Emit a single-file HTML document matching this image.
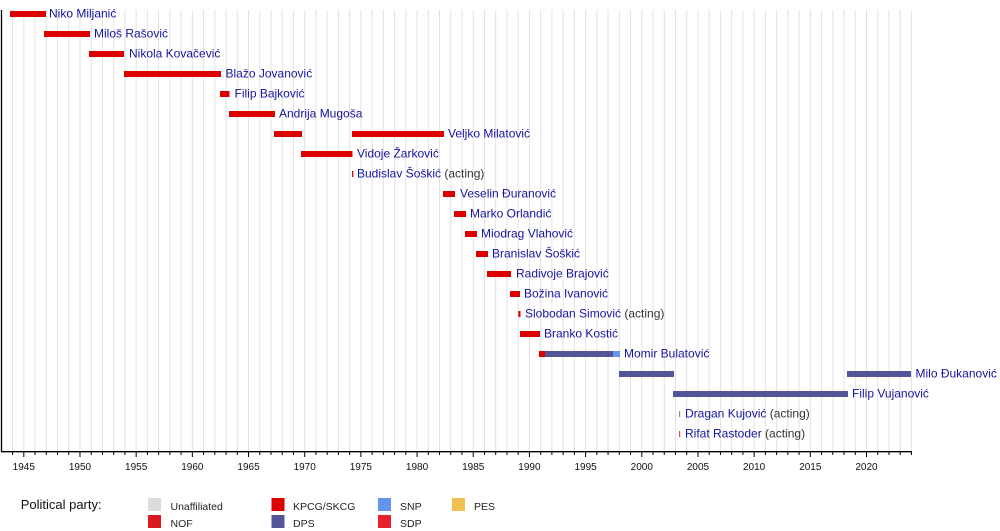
<!DOCTYPE html>
<html>
<head>
<meta charset="utf-8">
<style>
  html, body { margin:0; padding:0; background:#fff; }
  svg { display:block; }
  text { font-family: "Liberation Sans", "DejaVu Sans", sans-serif; }
  .nm { font-size:12px; fill:#1414a0; }
  .ac { fill:#333; }
  .ax { font-size:10px; fill:#111; text-anchor:middle; }
  .lg { font-size:10.5px; fill:#222; }
</style>
</head>
<body>
<svg width="1000" height="531" viewBox="0 0 1000 531" xmlns="http://www.w3.org/2000/svg">
  <rect x="0" y="0" width="1000" height="531" fill="#fff"/>
  <!-- gridlines every year -->
  <g stroke="#e2e2e2" stroke-width="1">
    <line x1="12.56" y1="10" x2="12.56" y2="451"/><line x1="23.8" y1="10" x2="23.8" y2="451"/><line x1="35.04" y1="10" x2="35.04" y2="451"/><line x1="46.27" y1="10" x2="46.27" y2="451"/><line x1="57.51" y1="10" x2="57.51" y2="451"/><line x1="68.74" y1="10" x2="68.74" y2="451"/><line x1="79.98" y1="10" x2="79.98" y2="451"/><line x1="91.22" y1="10" x2="91.22" y2="451"/><line x1="102.45" y1="10" x2="102.45" y2="451"/><line x1="113.69" y1="10" x2="113.69" y2="451"/><line x1="124.92" y1="10" x2="124.92" y2="451"/><line x1="136.16" y1="10" x2="136.16" y2="451"/><line x1="147.4" y1="10" x2="147.4" y2="451"/><line x1="158.63" y1="10" x2="158.63" y2="451"/><line x1="169.87" y1="10" x2="169.87" y2="451"/><line x1="181.1" y1="10" x2="181.1" y2="451"/><line x1="192.34" y1="10" x2="192.34" y2="451"/><line x1="203.58" y1="10" x2="203.58" y2="451"/><line x1="214.81" y1="10" x2="214.81" y2="451"/><line x1="226.05" y1="10" x2="226.05" y2="451"/><line x1="237.28" y1="10" x2="237.28" y2="451"/><line x1="248.52" y1="10" x2="248.52" y2="451"/><line x1="259.76" y1="10" x2="259.76" y2="451"/><line x1="270.99" y1="10" x2="270.99" y2="451"/><line x1="282.23" y1="10" x2="282.23" y2="451"/><line x1="293.46" y1="10" x2="293.46" y2="451"/><line x1="304.7" y1="10" x2="304.7" y2="451"/><line x1="315.94" y1="10" x2="315.94" y2="451"/><line x1="327.17" y1="10" x2="327.17" y2="451"/><line x1="338.41" y1="10" x2="338.41" y2="451"/><line x1="349.64" y1="10" x2="349.64" y2="451"/><line x1="360.88" y1="10" x2="360.88" y2="451"/><line x1="372.12" y1="10" x2="372.12" y2="451"/><line x1="383.35" y1="10" x2="383.35" y2="451"/><line x1="394.59" y1="10" x2="394.59" y2="451"/><line x1="405.82" y1="10" x2="405.82" y2="451"/><line x1="417.06" y1="10" x2="417.06" y2="451"/><line x1="428.3" y1="10" x2="428.3" y2="451"/><line x1="439.53" y1="10" x2="439.53" y2="451"/><line x1="450.77" y1="10" x2="450.77" y2="451"/><line x1="462" y1="10" x2="462" y2="451"/><line x1="473.24" y1="10" x2="473.24" y2="451"/><line x1="484.48" y1="10" x2="484.48" y2="451"/><line x1="495.71" y1="10" x2="495.71" y2="451"/><line x1="506.95" y1="10" x2="506.95" y2="451"/><line x1="518.18" y1="10" x2="518.18" y2="451"/><line x1="529.42" y1="10" x2="529.42" y2="451"/><line x1="540.66" y1="10" x2="540.66" y2="451"/><line x1="551.89" y1="10" x2="551.89" y2="451"/><line x1="563.13" y1="10" x2="563.13" y2="451"/><line x1="574.36" y1="10" x2="574.36" y2="451"/><line x1="585.6" y1="10" x2="585.6" y2="451"/><line x1="596.84" y1="10" x2="596.84" y2="451"/><line x1="608.07" y1="10" x2="608.07" y2="451"/><line x1="619.31" y1="10" x2="619.31" y2="451"/><line x1="630.54" y1="10" x2="630.54" y2="451"/><line x1="641.78" y1="10" x2="641.78" y2="451"/><line x1="653.02" y1="10" x2="653.02" y2="451"/><line x1="664.25" y1="10" x2="664.25" y2="451"/><line x1="675.49" y1="10" x2="675.49" y2="451"/><line x1="686.72" y1="10" x2="686.72" y2="451"/><line x1="697.96" y1="10" x2="697.96" y2="451"/><line x1="709.2" y1="10" x2="709.2" y2="451"/><line x1="720.43" y1="10" x2="720.43" y2="451"/><line x1="731.67" y1="10" x2="731.67" y2="451"/><line x1="742.9" y1="10" x2="742.9" y2="451"/><line x1="754.14" y1="10" x2="754.14" y2="451"/><line x1="765.38" y1="10" x2="765.38" y2="451"/><line x1="776.61" y1="10" x2="776.61" y2="451"/><line x1="787.85" y1="10" x2="787.85" y2="451"/><line x1="799.08" y1="10" x2="799.08" y2="451"/><line x1="810.32" y1="10" x2="810.32" y2="451"/><line x1="821.56" y1="10" x2="821.56" y2="451"/><line x1="832.79" y1="10" x2="832.79" y2="451"/><line x1="844.03" y1="10" x2="844.03" y2="451"/><line x1="855.26" y1="10" x2="855.26" y2="451"/><line x1="866.5" y1="10" x2="866.5" y2="451"/><line x1="877.74" y1="10" x2="877.74" y2="451"/><line x1="888.97" y1="10" x2="888.97" y2="451"/><line x1="900.21" y1="10" x2="900.21" y2="451"/><line x1="911.44" y1="10" x2="911.44" y2="451"/>
  </g>

  <!-- axes -->
  <line x1="1.5" y1="10" x2="1.5" y2="452" stroke="#000" stroke-width="1.3"/>
  <line x1="1" y1="451.7" x2="911.5" y2="451.7" stroke="#000" stroke-width="1.3"/>
  <g stroke="#000" stroke-width="1">
    <line x1="12.56" y1="451" x2="12.56" y2="455"/><line x1="23.8" y1="451" x2="23.8" y2="457"/><line x1="35.04" y1="451" x2="35.04" y2="455"/><line x1="46.27" y1="451" x2="46.27" y2="455"/><line x1="57.51" y1="451" x2="57.51" y2="455"/><line x1="68.74" y1="451" x2="68.74" y2="455"/><line x1="79.98" y1="451" x2="79.98" y2="457"/><line x1="91.22" y1="451" x2="91.22" y2="455"/><line x1="102.45" y1="451" x2="102.45" y2="455"/><line x1="113.69" y1="451" x2="113.69" y2="455"/><line x1="124.92" y1="451" x2="124.92" y2="455"/><line x1="136.16" y1="451" x2="136.16" y2="457"/><line x1="147.4" y1="451" x2="147.4" y2="455"/><line x1="158.63" y1="451" x2="158.63" y2="455"/><line x1="169.87" y1="451" x2="169.87" y2="455"/><line x1="181.1" y1="451" x2="181.1" y2="455"/><line x1="192.34" y1="451" x2="192.34" y2="457"/><line x1="203.58" y1="451" x2="203.58" y2="455"/><line x1="214.81" y1="451" x2="214.81" y2="455"/><line x1="226.05" y1="451" x2="226.05" y2="455"/><line x1="237.28" y1="451" x2="237.28" y2="455"/><line x1="248.52" y1="451" x2="248.52" y2="457"/><line x1="259.76" y1="451" x2="259.76" y2="455"/><line x1="270.99" y1="451" x2="270.99" y2="455"/><line x1="282.23" y1="451" x2="282.23" y2="455"/><line x1="293.46" y1="451" x2="293.46" y2="455"/><line x1="304.7" y1="451" x2="304.7" y2="457"/><line x1="315.94" y1="451" x2="315.94" y2="455"/><line x1="327.17" y1="451" x2="327.17" y2="455"/><line x1="338.41" y1="451" x2="338.41" y2="455"/><line x1="349.64" y1="451" x2="349.64" y2="455"/><line x1="360.88" y1="451" x2="360.88" y2="457"/><line x1="372.12" y1="451" x2="372.12" y2="455"/><line x1="383.35" y1="451" x2="383.35" y2="455"/><line x1="394.59" y1="451" x2="394.59" y2="455"/><line x1="405.82" y1="451" x2="405.82" y2="455"/><line x1="417.06" y1="451" x2="417.06" y2="457"/><line x1="428.3" y1="451" x2="428.3" y2="455"/><line x1="439.53" y1="451" x2="439.53" y2="455"/><line x1="450.77" y1="451" x2="450.77" y2="455"/><line x1="462" y1="451" x2="462" y2="455"/><line x1="473.24" y1="451" x2="473.24" y2="457"/><line x1="484.48" y1="451" x2="484.48" y2="455"/><line x1="495.71" y1="451" x2="495.71" y2="455"/><line x1="506.95" y1="451" x2="506.95" y2="455"/><line x1="518.18" y1="451" x2="518.18" y2="455"/><line x1="529.42" y1="451" x2="529.42" y2="457"/><line x1="540.66" y1="451" x2="540.66" y2="455"/><line x1="551.89" y1="451" x2="551.89" y2="455"/><line x1="563.13" y1="451" x2="563.13" y2="455"/><line x1="574.36" y1="451" x2="574.36" y2="455"/><line x1="585.6" y1="451" x2="585.6" y2="457"/><line x1="596.84" y1="451" x2="596.84" y2="455"/><line x1="608.07" y1="451" x2="608.07" y2="455"/><line x1="619.31" y1="451" x2="619.31" y2="455"/><line x1="630.54" y1="451" x2="630.54" y2="455"/><line x1="641.78" y1="451" x2="641.78" y2="457"/><line x1="653.02" y1="451" x2="653.02" y2="455"/><line x1="664.25" y1="451" x2="664.25" y2="455"/><line x1="675.49" y1="451" x2="675.49" y2="455"/><line x1="686.72" y1="451" x2="686.72" y2="455"/><line x1="697.96" y1="451" x2="697.96" y2="457"/><line x1="709.2" y1="451" x2="709.2" y2="455"/><line x1="720.43" y1="451" x2="720.43" y2="455"/><line x1="731.67" y1="451" x2="731.67" y2="455"/><line x1="742.9" y1="451" x2="742.9" y2="455"/><line x1="754.14" y1="451" x2="754.14" y2="457"/><line x1="765.38" y1="451" x2="765.38" y2="455"/><line x1="776.61" y1="451" x2="776.61" y2="455"/><line x1="787.85" y1="451" x2="787.85" y2="455"/><line x1="799.08" y1="451" x2="799.08" y2="455"/><line x1="810.32" y1="451" x2="810.32" y2="457"/><line x1="821.56" y1="451" x2="821.56" y2="455"/><line x1="832.79" y1="451" x2="832.79" y2="455"/><line x1="844.03" y1="451" x2="844.03" y2="455"/><line x1="855.26" y1="451" x2="855.26" y2="455"/><line x1="866.5" y1="451" x2="866.5" y2="457"/><line x1="877.74" y1="451" x2="877.74" y2="455"/><line x1="888.97" y1="451" x2="888.97" y2="455"/><line x1="900.21" y1="451" x2="900.21" y2="455"/><line x1="911.44" y1="451" x2="911.44" y2="455"/>
  </g>
  <g class="ax">
    <text x="23.8" y="470">1945</text><text x="79.98" y="470">1950</text><text x="136.16" y="470">1955</text><text x="192.34" y="470">1960</text><text x="248.52" y="470">1965</text><text x="304.7" y="470">1970</text><text x="360.88" y="470">1975</text><text x="417.06" y="470">1980</text><text x="473.24" y="470">1985</text><text x="529.42" y="470">1990</text><text x="585.6" y="470">1995</text><text x="641.78" y="470">2000</text><text x="697.96" y="470">2005</text><text x="754.14" y="470">2010</text><text x="810.32" y="470">2015</text><text x="866.5" y="470">2020</text>
  </g>

  <!-- bars -->
  <g fill="#dd0000">
    <rect x="10" y="11" width="36" height="6"/>
    <rect x="44" y="31" width="46" height="6"/>
    <rect x="89" y="51" width="35" height="6"/>
    <rect x="124" y="71" width="97" height="6"/>
    <rect x="220" y="91" width="9.5" height="6"/>
    <rect x="229" y="111" width="46" height="6"/>
    <rect x="274" y="131" width="28" height="6"/>
    <rect x="352" y="131" width="92" height="6"/>
    <rect x="301" y="151" width="51.5" height="6"/>
    <rect x="352" y="171" width="1.3" height="6"/>
    <rect x="443" y="191" width="12" height="6"/>
    <rect x="454" y="211" width="12" height="6"/>
    <rect x="465" y="231" width="12" height="6"/>
    <rect x="476" y="251" width="12" height="6"/>
    <rect x="487" y="271" width="24" height="6"/>
    <rect x="510" y="291" width="10" height="6"/>
    <rect x="518.3" y="311" width="2.2" height="6"/>
    <rect x="520" y="331" width="20" height="6"/>
    <rect x="539" y="351" width="6" height="6"/>
  </g>
  <g fill="#545499">
    <rect x="545" y="351" width="68.5" height="6"/>
    <rect x="619" y="371" width="55" height="6"/>
    <rect x="847" y="371" width="64" height="6"/>
    <rect x="673" y="391" width="175" height="6"/>
  </g>
  <rect x="613" y="351" width="7" height="6" fill="#6495ed"/>
  <rect x="679" y="411" width="1.2" height="6" fill="#8a8aa8"/>
  <rect x="679" y="431" width="1.2" height="6" fill="#d84a7a"/>

  <!-- labels -->
  <g class="nm">
    <text x="49" y="17.5">Niko Miljanić</text>
    <text x="94" y="37.5">Miloš Rašović</text>
    <text x="129" y="57.5">Nikola Kovačević</text>
    <text x="225.5" y="77.5">Blažo Jovanović</text>
    <text x="234.5" y="97.5">Filip Bajković</text>
    <text x="279" y="117.5">Andrija Mugoša</text>
    <text x="448" y="137.5">Veljko Milatović</text>
    <text x="357" y="157.5">Vidoje Žarković</text>
    <text x="357" y="177.5">Budislav Šoškić <tspan class="ac">(acting)</tspan></text>
    <text x="460" y="197.5">Veselin Đuranović</text>
    <text x="470" y="217.5">Marko Orlandić</text>
    <text x="481" y="237.5">Miodrag Vlahović</text>
    <text x="492" y="257.5">Branislav Šoškić</text>
    <text x="516" y="277.5">Radivoje Brajović</text>
    <text x="524" y="297.5">Božina Ivanović</text>
    <text x="525" y="317.5">Slobodan Simović <tspan class="ac">(acting)</tspan></text>
    <text x="544" y="337.5">Branko Kostić</text>
    <text x="624" y="357.5">Momir Bulatović</text>
    <text x="915.5" y="377.5">Milo Đukanović</text>
    <text x="852" y="397.5">Filip Vujanović</text>
    <text x="685" y="417.5">Dragan Kujović <tspan class="ac">(acting)</tspan></text>
    <text x="685" y="437.5">Rifat Rastoder <tspan class="ac">(acting)</tspan></text>
  </g>

  <!-- legend -->
  <text x="20.7" y="509" style="font-size:13px; fill:#111;">Political party:</text>
  <rect x="148" y="498" width="13" height="13" fill="#dcdcdc"/>
  <text class="lg" x="170.5" y="510">Unaffiliated</text>
  <rect x="148" y="515" width="13" height="13" fill="#dc1820"/>
  <text class="lg" x="170.5" y="527">NOF</text>
  <rect x="271.5" y="498" width="13" height="13" fill="#dd0000"/>
  <text class="lg" x="293" y="510">KPCG/SKCG</text>
  <rect x="271.5" y="515" width="13" height="13" fill="#545499"/>
  <text class="lg" x="293" y="527">DPS</text>
  <rect x="378" y="498" width="13" height="13" fill="#6495ed"/>
  <text class="lg" x="400" y="510">SNP</text>
  <rect x="378" y="515" width="13" height="13" fill="#e8202c"/>
  <text class="lg" x="400" y="527">SDP</text>
  <rect x="452" y="498" width="13" height="13" fill="#f0c050"/>
  <text class="lg" x="474" y="510">PES</text>
</svg>
</body>
</html>
